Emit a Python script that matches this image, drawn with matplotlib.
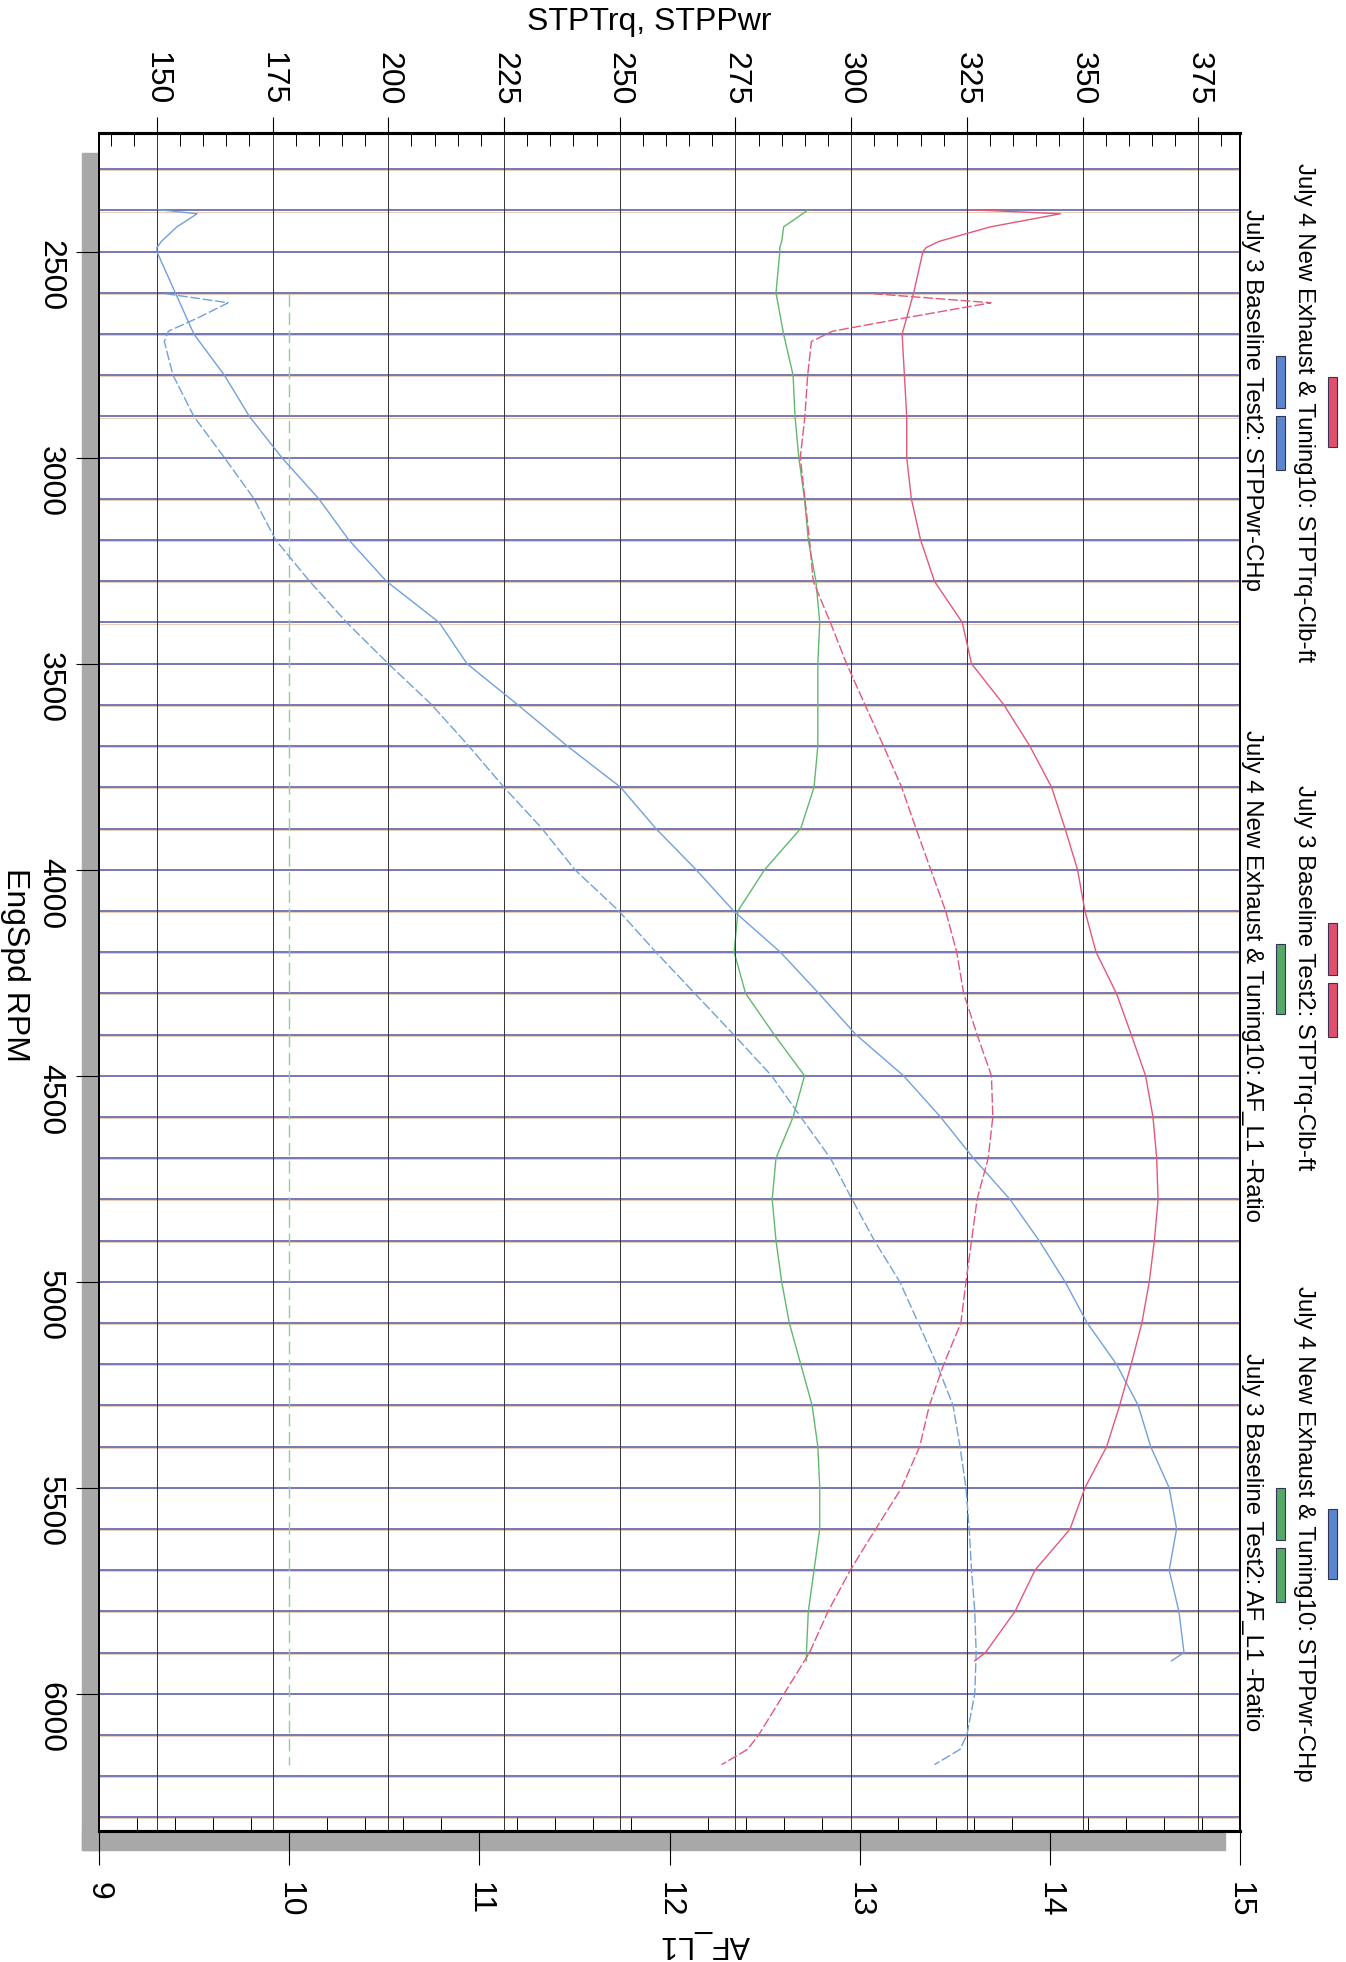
import numpy as np
import matplotlib
matplotlib.use("Agg")
import matplotlib.pyplot as plt
from matplotlib.patches import Rectangle
from matplotlib.ticker import MultipleLocator

plt.rcParams['font.family'] = ['Liberation Sans', 'DejaVu Sans']

W, H, DPI = 1346, 1962, 100

# July 4 New Exhaust & Tuning10  (solid lines)
rpm_jul4 = [2398, 2408, 2440, 2475, 2490, 2500, 2600, 2700, 2800, 2900, 3000,
            3100, 3200, 3300, 3400, 3500, 3600, 3700, 3800, 3900, 4000,
            4100, 4200, 4300, 4400, 4500, 4600, 4700, 4800, 4900, 5000,
            5100, 5200, 5300, 5400, 5500, 5600, 5700, 5800, 5900, 5920]
trq_jul4 = [325.4, 345.2, 330.0, 319.0, 316.2, 315.5, 313.5, 311.0, 311.5, 312.0, 312.0,
            313.0, 315.0, 318.0, 324.0, 326.0, 333.0, 338.6, 343.3, 346.2, 348.9,
            350.5, 352.9, 357.3, 360.5, 363.6, 365.2, 366.0, 366.3, 365.5, 364.4,
            362.8, 360.5, 358.0, 355.2, 350.5, 347.3, 339.7, 335.4, 329.0, 326.7]
pwr_jul4 = [150.3, 158.7, 154.3, 151.0, 150.0, 150.0, 154.0, 158.0, 164.6, 170.0, 177.0,
            185.0, 191.5, 199.6, 211.0, 217.0, 228.0, 238.7, 250.2, 257.8, 266.5,
            274.6, 284.7, 293.0, 301.0, 311.3, 319.3, 326.4, 334.3, 340.6, 346.2,
            351.0, 357.3, 362.0, 364.7, 368.7, 370.3, 368.7, 370.8, 371.9, 369.2]
af_jul4 = [12.73, 12.70, 12.60, 12.59, 12.58, 12.58, 12.56, 12.60, 12.65, 12.66, 12.68,
           12.71, 12.73, 12.77, 12.79, 12.78, 12.78, 12.78, 12.76, 12.69, 12.50,
           12.36, 12.34, 12.40, 12.55, 12.71, 12.65, 12.56, 12.54, 12.56, 12.59,
           12.63, 12.69, 12.75, 12.78, 12.79, 12.79, 12.76, 12.73, 12.72, 12.72]

# July 3 Baseline Test2  (dashed lines)
rpm_jul3 = [2602, 2624, 2660, 2693, 2718, 2800, 2900, 3000, 3100, 3200, 3300,
            3400, 3500, 3600, 3700, 3800, 3900, 4000, 4100, 4200, 4300,
            4400, 4500, 4600, 4700, 4800, 4900, 5000, 5100, 5200, 5300,
            5400, 5500, 5600, 5700, 5800, 5900, 6000, 6100, 6135, 6172]
trq_jul3 = [304.8, 330.2, 312.0, 296.0, 291.4, 290.6, 290.0, 289.0, 290.0, 291.0, 291.8,
            295.5, 299.0, 303.0, 307.0, 310.9, 314.0, 317.2, 320.4, 322.8, 324.3,
            327.2, 330.3, 330.6, 329.6, 327.2, 326.0, 324.8, 323.7, 320.0, 316.9,
            314.8, 310.9, 305.3, 299.8, 295.0, 291.0, 285.5, 280.0, 277.6, 272.0]
pwr_jul3 = [151.9, 165.4, 159.0, 152.5, 151.6, 153.5, 158.0, 164.6, 171.0, 175.7, 183.0,
            191.0, 200.0, 209.4, 217.4, 225.0, 233.2, 240.3, 249.8, 257.8, 266.2,
            274.6, 282.8, 289.1, 295.5, 300.2, 305.0, 310.5, 314.5, 318.5, 322.0,
            323.5, 324.8, 325.5, 326.0, 326.7, 327.0, 326.7, 325.0, 323.5, 318.0]
af_jul3 = [10.0] * len(rpm_jul3)

rpm_ticks = [2500, 3000, 3500, 4000, 4500, 5000, 5500, 6000]
trq_ticks = [150, 175, 200, 225, 250, 275, 300, 325, 350, 375]
af_ticks = [9, 10, 11, 12, 13, 14, 15]

legend_items = [
    # text, colour, dashed, column x (px), text centre y, swatch centre y (px)
    ("July 4 New Exhaust & Tuning10: STPTrq-Clb-ft", "#e0506e", False, 1304, 413, 412),
    ("July 3 Baseline Test2: STPPwr-CHp", "#5a86d0", True, 1252, 400, 412),
    ("July 3 Baseline Test2: STPTrq-Clb-ft", "#e0506e", True, 1304, 978, 979),
    ("July 4 New Exhaust & Tuning10: AF_L1 -Ratio", "#55a865", False, 1252, 976, 979),
    ("July 4 New Exhaust & Tuning10: STPPwr-CHp", "#5a86d0", False, 1304, 1534, 1544),
    ("July 3 Baseline Test2: AF_L1 -Ratio", "#55a865", True, 1252, 1542, 1544),
]

RED = "#e4587a"
BLUE = "#72a0dc"
GREEN = "#62b870"
GRID_H = "#5252a0"


def px(v):
    return v * 72.0 / DPI


def fx(x):
    return x / W


def fy(y):
    return 1 - y / H


fig = plt.figure(figsize=(W / DPI, H / DPI), dpi=DPI)
fig.patch.set_facecolor("white")

# drop shadow of the frame
fig.add_artist(Rectangle((fx(82), fy(1850)), fx(99) - fx(82), fy(153) - fy(1850),
                         transform=fig.transFigure, color="#a8a8a8", zorder=0))
fig.add_artist(Rectangle((fx(82), fy(1850)), fx(1225) - fx(82), fy(1831) - fy(1850),
                         transform=fig.transFigure, color="#a8a8a8", zorder=0))

ax = fig.add_axes([fx(99), fy(1831), fx(1240) - fx(99), fy(133) - fy(1831)])
ax_t = ax.twiny()

ax.set_xlim(9, 15)
ax.set_ylim(6333, 2212)
ax_t.set_xlim(137.5, 384)

# horizontal rpm grid (navy with a brownish tinge from the print)
ax.set_yticks(rpm_ticks)
ax.yaxis.set_minor_locator(MultipleLocator(100))
ax.grid(axis="y", which="both", color=GRID_H, lw=1.1)
for r in ax.yaxis.get_minorticklocs():
    ax.axhline(r + 2.6, color="#c89060", lw=0.7, alpha=0.45)

# AF lines
ax.plot(af_jul4, rpm_jul4, color=GREEN, lw=1.0)
ax.plot(af_jul3, rpm_jul3, color="#8fd09a", lw=1.0, ls=(0, (9, 4)))

# torque / power lines
ax_t.set_xticks(trq_ticks)
ax_t.grid(axis="x", color="#333333", lw=0.7)
ax_t.plot(pwr_jul4, rpm_jul4, color=BLUE, lw=1.0)
ax_t.plot(pwr_jul3, rpm_jul3, color=BLUE, lw=1.0, ls=(0, (7, 2)))
ax_t.plot(trq_jul4, rpm_jul4, color=RED, lw=1.0)
ax_t.plot(trq_jul3, rpm_jul3, color=RED, lw=1.0, ls=(0, (7, 2)))

# ticks
ax.set_xticks(af_ticks)
ax.xaxis.set_minor_locator(MultipleLocator(0.2))
ax.tick_params(axis="x", which="major", direction="out", length=px(34), width=0.8,
               pad=px(17), labelsize=23, labelrotation=-90)
ax.tick_params(axis="x", which="minor", direction="in", length=px(14), width=0.7)
ax.tick_params(axis="y", which="major", direction="out", length=px(23), width=0.8,
               pad=px(11), labelsize=23, labelrotation=-90)
ax.tick_params(axis="y", which="minor", length=0)
ax_t.xaxis.set_minor_locator(MultipleLocator(5))
ax_t.tick_params(axis="x", which="major", direction="out", length=px(16), width=0.8,
                 pad=px(12), labelsize=23, labelrotation=-90)
ax_t.tick_params(axis="x", which="minor", direction="in", length=px(13), width=0.7)

for a in (ax, ax_t):
    for s in a.spines.values():
        s.set_linewidth(1.4)
    a.spines["top"].set_linewidth(2.2)
    a.spines["bottom"].set_linewidth(2.2)

# axis titles
fig.text(fx(649), fy(22), "STPTrq, STPPwr", fontsize=23, ha="center", va="center")
fig.text(fx(15), fy(965), "EngSpd RPM", fontsize=23, ha="center", va="center", rotation=-90)
fig.text(fx(705), fy(1944), "AF_L1", fontsize=22, ha="center", va="center", rotation=180)

# legend
sw_w = 9
for text, col, dashed, x, ty, sy in legend_items:
    fig.text(fx(x), fy(ty), text, fontsize=17.3, ha="center", va="center", rotation=-90)
    sx = x + 24
    if dashed:
        parts = [(sy - 56, sy - 4), (sy + 4, sy + 58)]
    else:
        parts = [(sy - 35, sy + 35)]
    for y0, y1 in parts:
        fig.add_artist(Rectangle((fx(sx), fy(y1)), fx(sw_w), fy(y0) - fy(y1),
                                 transform=fig.transFigure, facecolor=col,
                                 edgecolor="#333355", lw=0.8, zorder=3))

fig.savefig("out.png", dpi=DPI)
